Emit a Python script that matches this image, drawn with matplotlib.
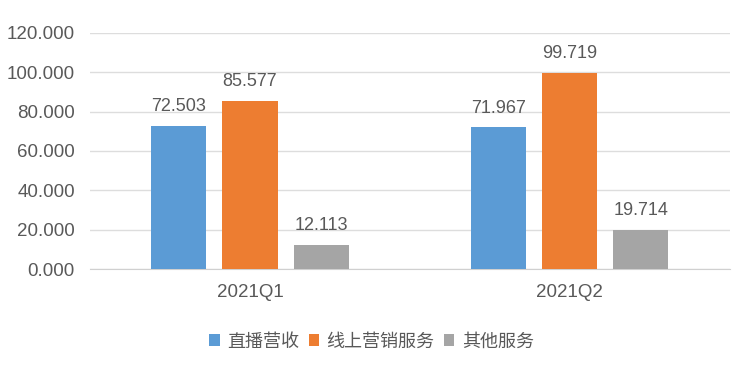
import numpy as np
import matplotlib.pyplot as plt

plt.rcParams['font.family'] = ['Liberation Sans', 'Noto Sans CJK SC']

quarters = ['2021Q1', '2021Q2']
series_names = ['直播营收', '线上营销服务', '其他服务']
live = [72.503, 71.967]
marketing = [85.577, 99.719]
other = [12.113, 19.714]
colors = ['#5B9BD5', '#ED7D31', '#A5A5A5']

fig = plt.figure(figsize=(7.38, 3.65), dpi=100)
ax = fig.add_axes([0.122, 0.263, 0.867, 0.647])

x = np.arange(len(quarters))
width = 0.172
step = 0.222
text_color = '#595959'

for i, (vals, name) in enumerate(zip([live, marketing, other], series_names)):
    pos = x + (i - 1) * step
    ax.bar(pos, vals, width, color=colors[i], label=name, zorder=3)
    for px, v in zip(pos, vals):
        ax.text(px, v + 5.5, f'{v:.3f}', ha='center', va='bottom',
                fontsize=13, color=text_color)

ax.set_xlim(-0.5, 1.5)
ax.set_ylim(0, 120)
ax.set_yticks(np.arange(0, 121, 20))
ax.set_yticklabels([f'{t:.3f}' for t in np.arange(0, 121, 20)])
ax.set_xticks(x)
ax.set_xticklabels(quarters)
ax.tick_params(axis='both', length=0, labelsize=13.5, labelcolor=text_color)
ax.tick_params(axis='y', pad=11)
ax.tick_params(axis='x', pad=11)
ax.grid(axis='y', color='#DDDDDD', linewidth=1, zorder=0)
for s in ['top', 'right', 'left']:
    ax.spines[s].set_visible(False)
ax.spines['bottom'].set_color('#D0D0D0')

ax.legend(loc='upper center', bbox_to_anchor=(0.44, -0.2), ncol=3, frameon=False,
          prop={'family': ['Noto Sans CJK SC'], 'size': 13},
          handlelength=0.6, handleheight=0.6, handletextpad=0.4,
          columnspacing=0.5, labelcolor=text_color)

fig.savefig('out.png', dpi=100)
